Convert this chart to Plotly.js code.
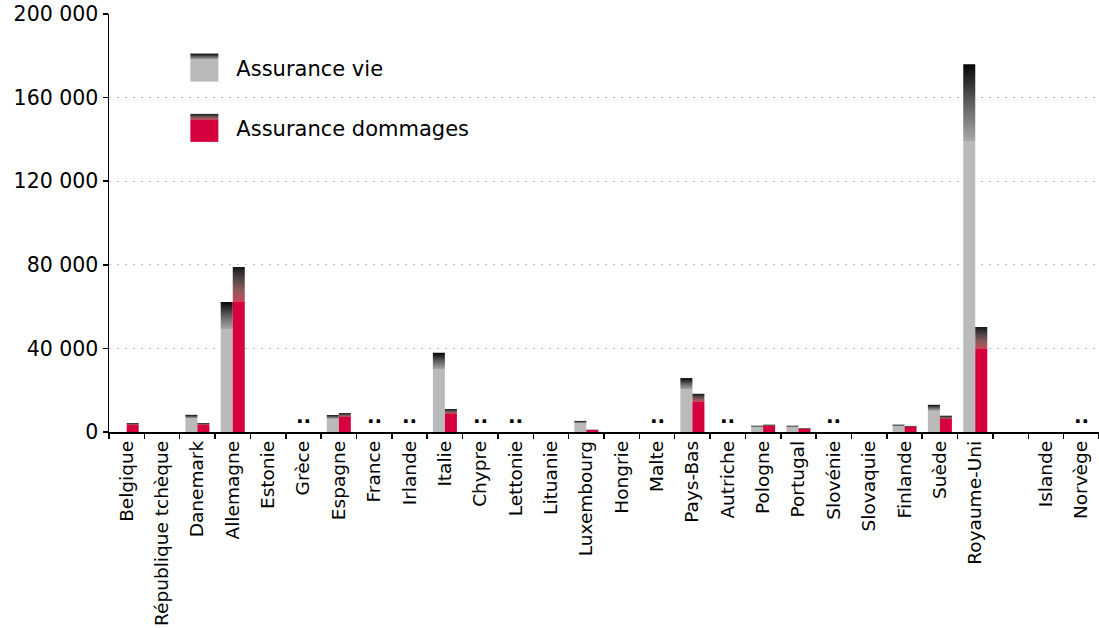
<!DOCTYPE html>
<html><head><meta charset="utf-8">
<script src="https://cdn.plot.ly/plotly-3.0.1.min.js"></script>
<style>html,body{margin:0;padding:0;background:#fff}</style>
</head><body>
<div id="chart" style="width:1099px;height:628px"></div>
<script>
// ---- data ----
const categories = ["Belgique","République tchèque","Danemark","Allemagne","Estonie","Grèce","Espagne","France","Irlande","Italie","Chypre","Lettonie","Lituanie","Luxembourg","Hongrie","Malte","Pays-Bas","Autriche","Pologne","Portugal","Slovénie","Slovaquie","Finlande","Suède","Royaume-Uni"," ","Islande","Norvège"];
const vie      = [0,0,8200,62200,0,null,8100,null,null,37900,null,null,0,5300,0,null,25800,null,3000,3000,null,0,3500,13000,176000,null,0,null];
const dommages = [4300,0,4300,79000,0,null,9100,null,null,11000,null,null,0,1100,0,null,18300,null,3500,1900,null,0,2900,7800,50200,null,0,null];
const missing  = ["Grèce","France","Irlande","Chypre","Lettonie","Malte","Autriche","Slovénie","Norvège"];
const seriesNames = ["Assurance vie","Assurance dommages"];
const yTicks = [0,40000,80000,120000,160000,200000];

const GRAY = '#bababa', RED = '#d7003f';

const traces = [
  {type:'bar', name:seriesNames[0], x:categories, y:vie, marker:{color:GRAY, line:{width:0}}, legendgroup:'a', hoverinfo:'skip'},
  {type:'bar', name:seriesNames[1], x:categories, y:dommages, marker:{color:RED, line:{width:0}}, legendgroup:'b', hoverinfo:'skip'}
];

const annotations = missing.map(c => ({
  x:c, y:0, xref:'x', yref:'y', text:'<b>..</b>', showarrow:false,
  yanchor:'bottom', yshift:2, font:{size:20, color:'#000'}
}));

const layout = {
  width:1099, height:628,
  margin:{l:109, r:0, t:14, b:196, pad:0},
  paper_bgcolor:'#fff', plot_bgcolor:'#fff',
  font:{family:'DejaVu Sans, Verdana, sans-serif', color:'#000', size:20},
  separators:', ',
  barmode:'group', bargap:0.32, bargroupgap:0,
  showlegend:true,
  legend:{x:0.064, y:0.92, xanchor:'left', yanchor:'top', bgcolor:'rgba(0,0,0,0)',
          font:{size:21, color:'#000'}, itemwidth:54, traceorder:'grouped', tracegroupgap:30},
  xaxis:{type:'category', categoryorder:'array', categoryarray:categories, range:[-0.5,27.5],
         tickangle:-90, tickfont:{size:18.5}, showline:true, linecolor:'#000', linewidth:1.5,
         ticks:'outside', tickson:'boundaries', ticklen:5, tickcolor:'#000', tickwidth:1.5,
         showgrid:false, zeroline:false, fixedrange:true},
  yaxis:{range:[0,200000], tickmode:'array', tickvals:yTicks, tickformat:',d',
         showline:true, linecolor:'#000', linewidth:1.5, ticks:'outside', ticklen:5, tickcolor:'#000', tickwidth:1.5,
         showgrid:true, gridcolor:'#bdbdbd', griddash:'2px,6px', gridwidth:1.2, zeroline:false,
         tickfont:{size:20.5}, fixedrange:true},
  annotations:annotations
};

function applyGradients(){
  const ns='http://www.w3.org/2000/svg';
  const svg=document.querySelector('#chart svg.main-svg');
  let defs=document.createElementNS(ns,'defs');
  svg.insertBefore(defs, svg.firstChild);
  function grad(id, stops){
    const lg=document.createElementNS(ns,'linearGradient');
    lg.setAttribute('id',id);
    lg.setAttribute('x1','0');lg.setAttribute('y1','0');lg.setAttribute('x2','0');lg.setAttribute('y2','1');
    stops.forEach(([o,c])=>{const s=document.createElementNS(ns,'stop');s.setAttribute('offset',o);s.setAttribute('stop-color',c);lg.appendChild(s);});
    defs.appendChild(lg);
  }
  grad('gVie',[[0,'#050505'],[0.1,'#5a5a5a'],[0.21,'#a8a8a8'],[0.21,GRAY],[1,GRAY]]);
  grad('gDom',[[0,'#181818'],[0.07,'#4e4444'],[0.14,'#8c5a5c'],[0.21,'#c9465a'],[0.21,RED],[1,RED]]);
  const ids=['gVie','gDom'];
  document.querySelectorAll('#chart .barlayer .trace.bars').forEach((t,i)=>{
    t.querySelectorAll('.point path').forEach(p=>{p.style.fill='url(#'+ids[i]+')';});
  });
  const sb=document.querySelector('#chart .legend .scrollbox');
  if(sb) sb.removeAttribute('clip-path');
  document.querySelectorAll('#chart .legend .traces').forEach((t,i)=>{
    t.querySelectorAll('.legendpoints path').forEach(p=>{
      p.setAttribute('d','M14,14H-14V-14H14Z');
      p.style.fill='url(#'+ids[i]+')';
      p.style.stroke='none';
    });
  });
}

Plotly.newPlot('chart', traces, layout, {staticPlot:true, displayModeBar:false}).then(applyGradients);
</script>
</body></html>
